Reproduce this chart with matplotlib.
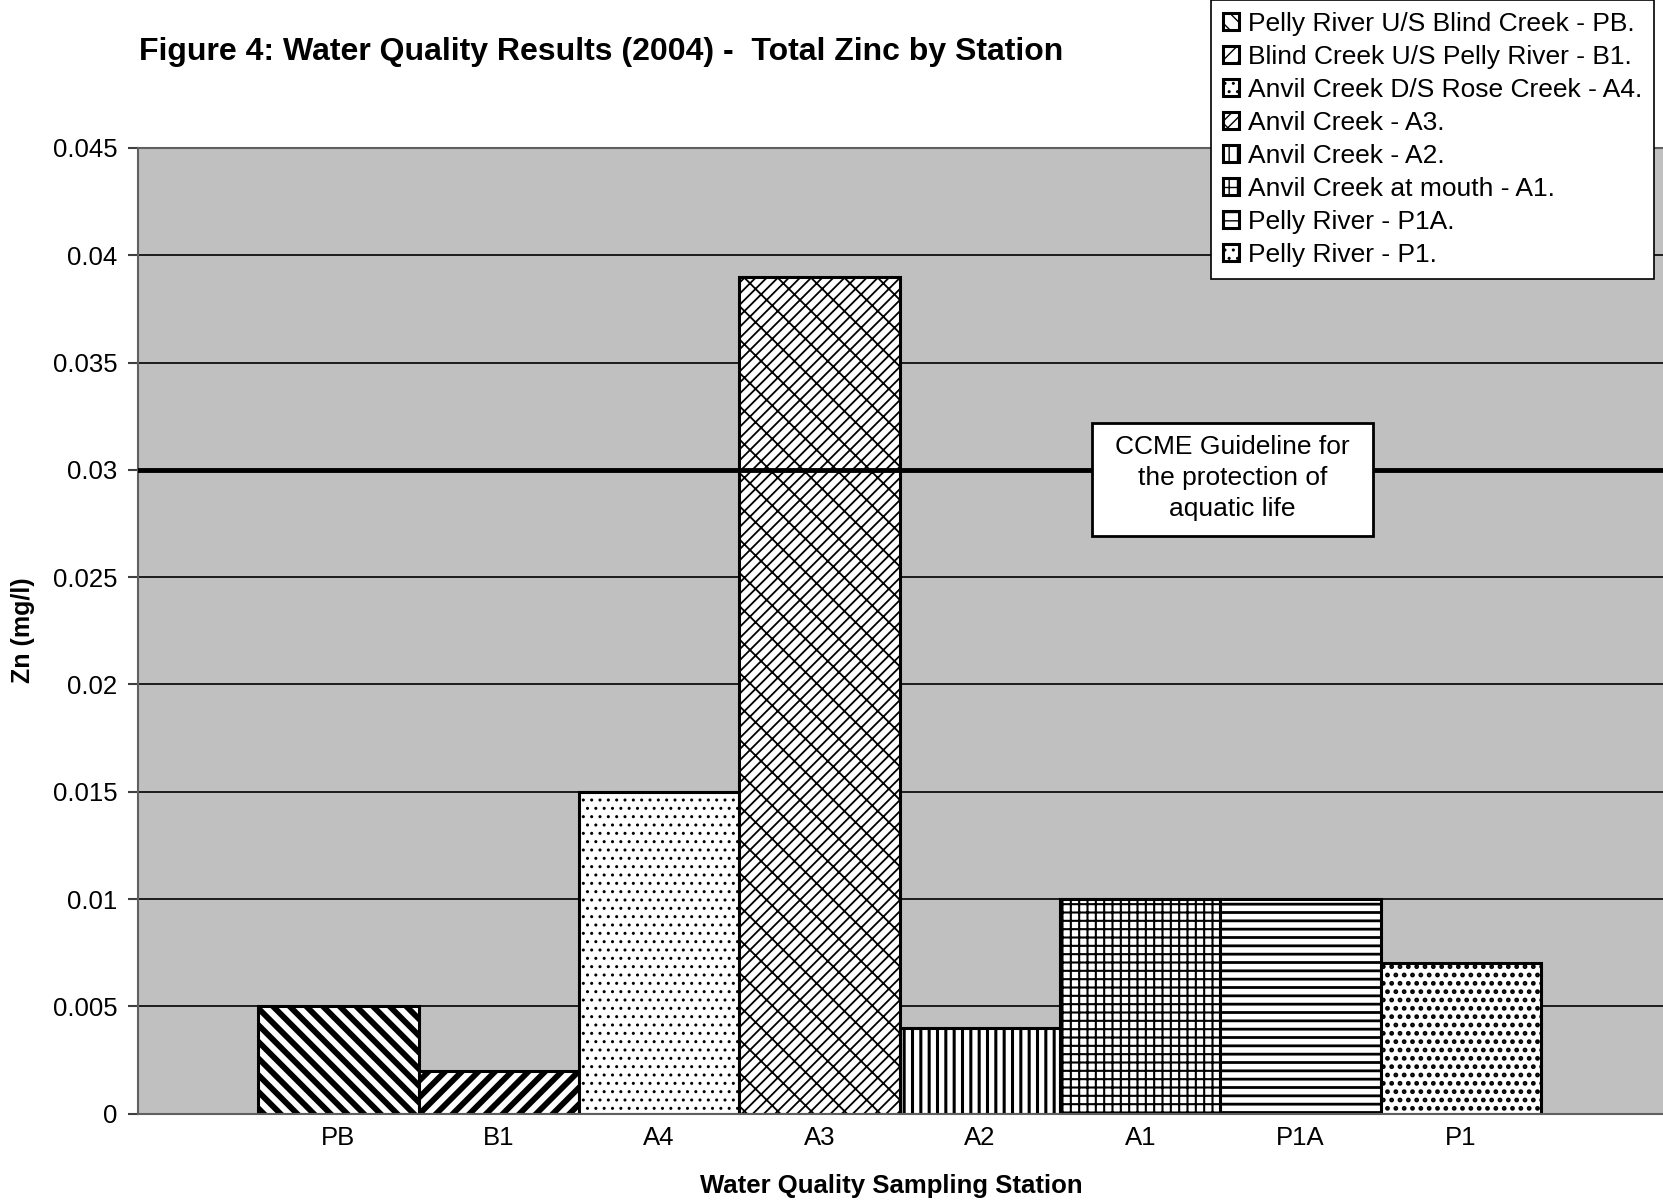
import matplotlib
matplotlib.use('Agg')
import matplotlib.pyplot as plt
from matplotlib.patches import Rectangle

plt.rcParams['font.family'] = ['Liberation Sans', 'DejaVu Sans']

# data
stations = ['PB', 'B1', 'A4', 'A3', 'A2', 'A1', 'P1A', 'P1']
zinc = [0.005, 0.002, 0.015, 0.039, 0.004, 0.010, 0.010, 0.007]
legend_names = ['Pelly River U/S Blind Creek - PB.',
                'Blind Creek U/S Pelly River - B1.',
                'Anvil Creek D/S Rose Creek - A4.',
                'Anvil Creek - A3.',
                'Anvil Creek - A2.',
                'Anvil Creek at mouth - A1.',
                'Pelly River - P1A.',
                'Pelly River - P1.']
yticks = [0, 0.005, 0.01, 0.015, 0.02, 0.025, 0.03, 0.035, 0.04, 0.045]
ytick_labels = ['0', '0.005', '0.01', '0.015', '0.02', '0.025', '0.03',
                '0.035', '0.04', '0.045']
guideline = 0.03
guideline_text = 'CCME Guideline for\nthe protection of\naquatic life'

# styling per bar
hatches = ['\\\\', '//', '..', '///\\', '||', '++', '--', '..']
hatch_lw = [4.2, 4.2, 1.0, 1.3, 2.2, 1.5, 2.0, 2.2]

fig = plt.figure(figsize=(16.63, 12.03), dpi=100)
ax = fig.add_axes([0.083, 0.0743, 0.917, 0.8027])
ax.set_facecolor('#C0C0C0')
ax.set_axisbelow(True)

xs = list(range(len(stations)))
bars = ax.bar(xs, zinc, width=1.0, color='white', edgecolor='black',
              linewidth=2.2, zorder=2)
for b, h, lw in zip(bars, hatches, hatch_lw):
    b.set_hatch(h)
    if hasattr(b, 'set_hatch_linewidth'):
        b.set_hatch_linewidth(lw)

ax.axhline(guideline, color='black', linewidth=3.5, zorder=3)

ax.set_xlim(-1.25, 8.26)
ax.set_ylim(0, 0.045)
ax.set_yticks(yticks)
ax.set_yticklabels(ytick_labels, fontsize=18.5)
ax.set_xticks(xs)
ax.set_xticklabels(stations, fontsize=18.5)
ax.tick_params(axis='x', length=0, pad=9)
ax.tick_params(axis='y', length=7, width=1.5, color='#404040', pad=8)
ax.yaxis.grid(True, color='black', linewidth=1.2)
for s in ['left', 'bottom', 'top']:
    ax.spines[s].set_color('#606060')
    ax.spines[s].set_linewidth(1.5)
ax.spines['right'].set_visible(False)

fig.text(23 / 1663, 1 - 630 / 1203, 'Zn (mg/l)', fontsize=18,
         fontweight='bold', rotation=90, ha='center', va='center')
fig.text(891 / 1663, 1 - 1186 / 1203, 'Water Quality Sampling Station',
         fontsize=18.5, fontweight='bold', ha='center', va='center')
fig.text(139 / 1663, 1 - 52 / 1203,
         'Figure 4: Water Quality Results (2004) -  Total Zinc by Station',
         fontsize=23, fontweight='bold', ha='left', va='center')

# guideline label box
fig.patches.append(Rectangle((0.6566, 0.5544), 0.169, 0.0939,
                             transform=fig.transFigure, facecolor='white',
                             edgecolor='black', linewidth=2, zorder=5))
fig.text(0.7411, 0.6025, guideline_text, fontsize=19, ha='center',
         va='center', linespacing=1.38, zorder=6)

leg = fig.legend(bars, legend_names, loc='upper left',
                 bbox_to_anchor=(1211 / 1663, 1.0), fontsize=19,
                 frameon=True, fancybox=False, framealpha=1,
                 edgecolor='black', handlelength=0.6, handleheight=0.6,
                 handletextpad=0.35, labelspacing=0.34, borderpad=0.45,
                 borderaxespad=0)
leg.get_frame().set_linewidth(1.2)

fig.savefig('out.png', dpi=100)
